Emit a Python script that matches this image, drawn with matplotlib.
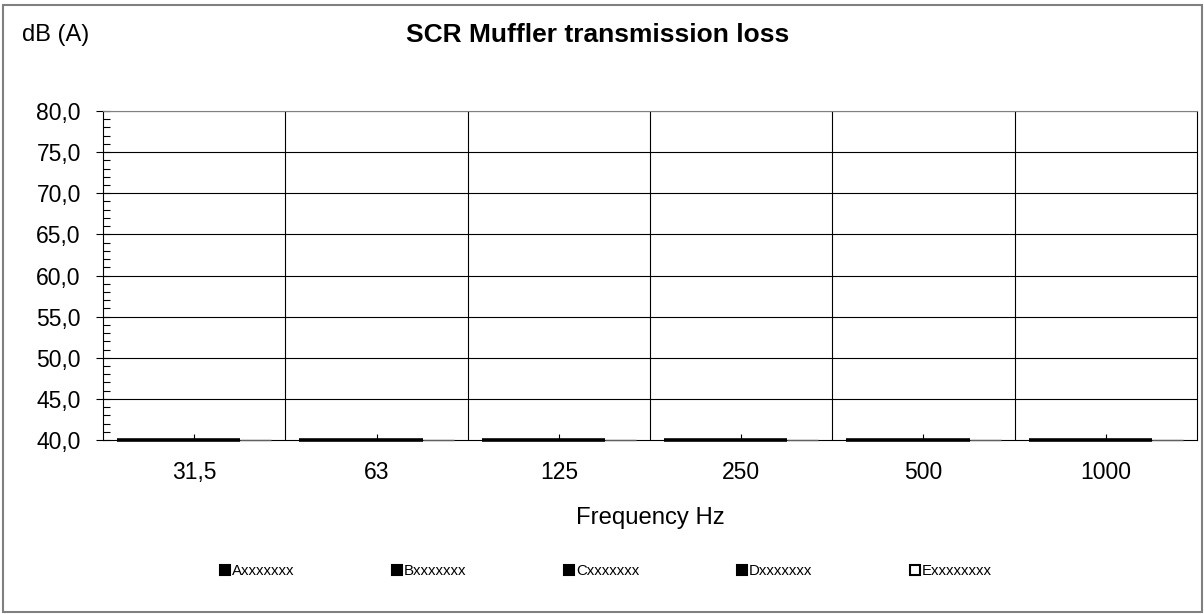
import matplotlib
matplotlib.use("Agg")
import matplotlib.pyplot as plt
import numpy as np
from matplotlib.patches import Patch, Rectangle
from matplotlib.ticker import MultipleLocator, FuncFormatter

plt.rcParams['font.family'] = ['Liberation Sans', 'DejaVu Sans']

categories = ["31,5", "63", "125", "250", "500", "1000"]
series_names = ["Axxxxxxx", "Bxxxxxxx", "Cxxxxxxx", "Dxxxxxxx", "Exxxxxxxx"]
series_a = [40.0, 40.0, 40.0, 40.0, 40.0, 40.0]
series_b = [40.0, 40.0, 40.0, 40.0, 40.0, 40.0]
series_c = [40.0, 40.0, 40.0, 40.0, 40.0, 40.0]
series_d = [40.0, 40.0, 40.0, 40.0, 40.0, 40.0]
series_e = [40.0, 40.0, 40.0, 40.0, 40.0, 40.0]
series_colors = ["black", "black", "black", "black", "white"]

W, H = 1204, 614
fig = plt.figure(figsize=(W / 100, H / 100), dpi=100)
ax = fig.add_axes([103 / W, 1 - 440 / H, (1197 - 103) / W, (440 - 111) / H])

ymin, ymax = 40.0, 80.0
x = np.arange(len(categories))
all_series = [series_a, series_b, series_c, series_d, series_e]
n = len(all_series)
bw = 0.169
offsets = (np.arange(n) - (n - 1) / 2) * bw
for s, vals, col, off in zip(series_names, all_series, series_colors, offsets):
    v = np.array(vals)
    ax.bar(x + off, v - ymin, bottom=ymin, width=bw, color=col,
           edgecolor='black' if col == 'black' else '#606060',
           linewidth=2.6 if col == 'black' else 1.0,
           zorder=3, clip_on=False)

ax.set_xlim(-0.5, len(categories) - 0.5)
ax.set_ylim(ymin, ymax)

# gridlines
for yv in np.arange(45, 81, 5):
    ax.axhline(yv, color='black', lw=0.8, zorder=1)
for b in np.arange(0.5, len(categories) - 0.5, 1):
    ax.axvline(b, color='black', lw=0.8, zorder=1)

ax.yaxis.set_major_locator(MultipleLocator(5))
ax.yaxis.set_minor_locator(MultipleLocator(1))
ax.yaxis.set_major_formatter(FuncFormatter(lambda v, p: f"{v:.1f}".replace('.', ',')))
ax.tick_params(axis='y', which='major', direction='inout', length=10, width=0.8,
               labelsize=16.5, pad=11)
ax.tick_params(axis='y', which='minor', direction='in', length=5, width=0.8)
ax.set_xticks(x)
ax.set_xticklabels(categories)
ax.tick_params(axis='x', which='major', direction='in', length=4, width=0.8,
               labelsize=16.5, pad=15)

for sp in ax.spines.values():
    sp.set_linewidth(0.8)
    sp.set_color('black')
ax.spines['top'].set_color('#808080')

ax.set_xlabel("Frequency Hz", fontsize=17.2, labelpad=17)

fig.text(598 / W, 1 - 35 / H, "SCR Muffler transmission loss", ha='center', va='center',
         fontsize=19, fontweight='bold')
fig.text(22 / W, 1 - 35 / H, "dB (A)", ha='left', va='center', fontsize=17)

handles = [Patch(facecolor=c, edgecolor='black', linewidth=1.5) for c in series_colors]
fig.legend(handles, series_names, loc='center', bbox_to_anchor=(606 / W, 1 - 571 / H),
           ncol=5, frameon=False, fontsize=10.8, handlelength=0.65, handleheight=0.65,
           handletextpad=0.15, columnspacing=6.5, borderaxespad=0)

fig.patches.append(Rectangle((3 / W, 2 / H), (W - 5) / W, (H - 7) / H, transform=fig.transFigure,
                             fill=False, edgecolor='#808080', linewidth=1.5))

fig.savefig("out.png", dpi=100)
